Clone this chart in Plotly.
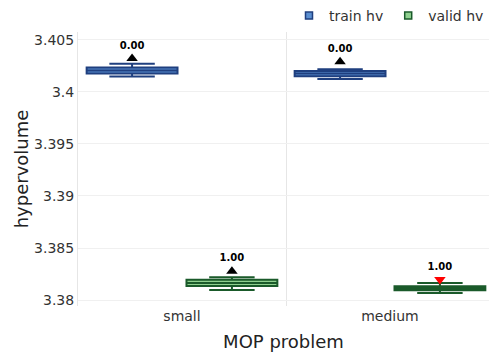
import plotly.graph_objects as go

# Hypervolume summary statistics per MOP problem
problems = ["small", "medium"]

train_lower = [3.40148, 3.40123]
train_q1 = [3.40176, 3.40151]
train_median = [3.40205, 3.40176]
train_q3 = [3.40233, 3.40201]
train_upper = [3.40271, 3.40217]

valid_lower = [3.38097, 3.38069]
valid_q1 = [3.38135, 3.38094]
valid_median = [3.38165, 3.38113]
valid_q3 = [3.38195, 3.38132]
valid_upper = [3.38220, 3.38163]

# Significance markers placed above each box, labelled with the p-value
train_marker_y = [3.40321, 3.40290]
valid_marker_y = [3.38277, 3.38198]
train_pvalue = [0.00, 0.00]
valid_pvalue = [1.00, 1.00]
train_symbol = ["triangle-up", "triangle-up"]
valid_symbol = ["triangle-up", "triangle-down"]
train_symbol_color = ["black", "black"]
valid_symbol_color = ["black", "red"]

TRAIN_LINE = "#1f3f7f"
TRAIN_FILL = "#5b8fd0"
VALID_LINE = "#1a5a2a"
VALID_FILL = "#8fd08f"

fig = go.Figure()

for name, grp, lo, q1, med, q3, hi, lc, fc in [
    ("train hv", "train", train_lower, train_q1, train_median, train_q3, train_upper,
     TRAIN_LINE, TRAIN_FILL),
    ("valid hv", "valid", valid_lower, valid_q1, valid_median, valid_q3, valid_upper,
     VALID_LINE, VALID_FILL),
]:
    fig.add_trace(go.Box(
        name=name, x=problems, offsetgroup=grp, legendgroup=grp,
        lowerfence=lo, q1=q1, median=med, q3=q3, upperfence=hi,
        line=dict(color=lc, width=2), fillcolor=fc,
        whiskerwidth=0.5, showlegend=False,
    ))
    # compact square legend entry
    fig.add_trace(go.Scatter(
        name=name, x=[None], y=[None], mode="markers", legendgroup=grp,
        marker=dict(symbol="square", size=7, color=fc, line=dict(color=lc, width=1.5)),
        showlegend=True,
    ))

for ys, pv, sym, col, grp in [
    (train_marker_y, train_pvalue, train_symbol, train_symbol_color, "train"),
    (valid_marker_y, valid_pvalue, valid_symbol, valid_symbol_color, "valid"),
]:
    fig.add_trace(go.Scatter(
        x=problems, y=ys, mode="markers+text", offsetgroup=grp,
        text=[f"<b>{p:.2f}</b>" for p in pv], textposition="top center",
        textfont=dict(size=10, color="black", family="DejaVu Sans"),
        marker=dict(symbol=sym, color=col, size=10),
        showlegend=False, hoverinfo="skip",
    ))

fig.update_layout(
    width=489, height=352,
    template="plotly_white",
    font=dict(family="DejaVu Sans", size=14, color="#333"),
    margin=dict(l=78, r=0, t=27, b=46),
    boxmode="group", boxgap=0.04, boxgroupgap=0.09,
    scattermode="group", scattergap=0.04,
    legend=dict(orientation="h", x=1, xanchor="right", y=1.0, yanchor="bottom",
                font=dict(size=14, color="#333")),
    xaxis=dict(
        title=dict(text="MOP problem", font=dict(size=18, color="#222")),
        tickson="boundaries", showgrid=True, gridcolor="#e6e6e6",
        range=[-0.5, 1.476], ticks="",
    ),
    yaxis=dict(
        title=dict(text="hypervolume", font=dict(size=18, color="#222"), standoff=0),
        range=[3.37943, 3.40575], tick0=3.38, dtick=0.005,
        showgrid=True, gridcolor="#f0f0f0", zeroline=False,
        showline=True, linecolor="#e6e6e6", linewidth=1,
    ),
)

fig.write_html("out.html")
